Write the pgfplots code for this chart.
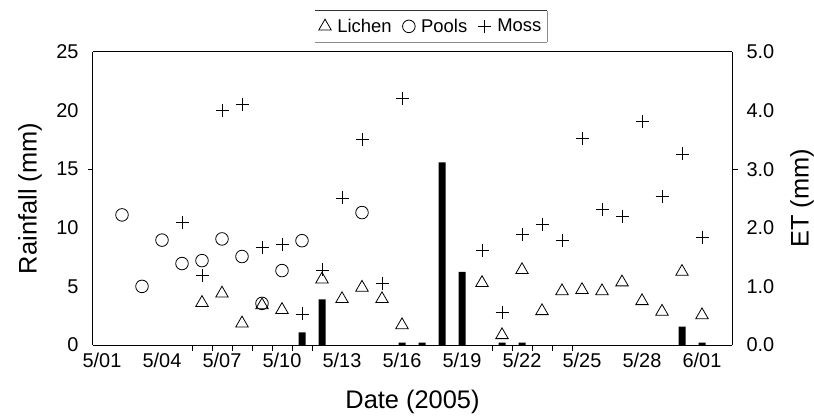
\documentclass[border=0pt]{standalone}
\usepackage{pgfplots}
\pgfplotsset{compat=1.18}
\usepackage{fontspec}
\setmainfont{Liberation Sans}
\begin{document}
\begin{tikzpicture}
\path[use as bounding box] (-93bp,-72bp) rectangle (721bp,345bp);
\pgfplotsset{
  common/.style={
    at={(0,0)}, anchor=south west,
    scale only axis, width=639bp, height=293bp,
    xmin=0.55, xmax=32.5,
    major tick length=0pt,
    axis line style={line width=1bp},
    tick style={line width=0.8bp, black},
    ticklabel style={font=\fontsize{20}{23}\selectfont},
    /pgf/number format/assume math mode=true,
    label style={font=\fontsize{25.5}{29}\selectfont},
  }
}
\begin{axis}[common,
  ymin=0, ymax=25,
  axis y line*=left,
  xtick pos=bottom,
  ytick={0,5,10,15,20,25},
  xtick={1,4,7,10,13,16,19,22,25,28,31},
  xticklabels={5/01,5/04,5/07,5/10,5/13,5/16,5/19,5/22,5/25,5/28,6/01},
  extra x ticks={5.5,6.5,7.5,8.5,9.5,10.5,11.5,20.5,21.5,22.5,23.5,24.5},
  extra x tick labels={},
  extra x tick style={major tick length=6bp, tick align=outside, xtick pos=bottom},
  extra y ticks={15}, extra y tick labels={},
  extra y tick style={major tick length=5bp, tick align=outside},
  xticklabel style={yshift=-5bp},
  yticklabel style={xshift=-11bp},
  xlabel={Date (2005)}, ylabel={Rainfall (mm)},
  xlabel style={at={(axis description cs:0.5,-0.194)}, anchor=center},
  ylabel style={at={(axis description cs:-0.0986,0.5)}, anchor=center},
]
\addplot[ybar, bar width=0.35, fill=black, draw=none] coordinates {
(11,1.08) (12,3.9) (16,0.2) (17,0.2) (18,15.59) (19,6.25) (21,0.2) (22,0.2) (30,1.56) (31,0.2)
};
\end{axis}
\begin{axis}[common,
  ymin=0, ymax=5,
  axis y line*=right, axis x line=none,
  ytick={0,1,2,3,4,5},
  /pgf/number format/fixed, /pgf/number format/fixed zerofill, /pgf/number format/precision=1,
  yticklabel style={xshift=11bp},
  extra y ticks={3}, extra y tick labels={},
  extra y tick style={major tick length=6bp, tick align=outside},
  ylabel={ET (mm)},
  ylabel style={at={(axis description cs:1.1095,0.5)}, anchor=center},
  legend columns=3,
  legend style={at={(0.529,1)}, anchor=south, yshift=10bp,
    font=\fontsize{18.5}{21}\selectfont, draw=none,
    inner xsep=4bp, inner ysep=6bp,
    /tikz/every even column/.append style={column sep=9bp},
    /tikz/every odd column/.append style={column sep=4bp},
    append after command={
      (\tikzlastnode.north west) edge[draw=black!80, line width=0.8bp] (\tikzlastnode.north east)
      (\tikzlastnode.north east) edge[draw=black!45, line width=0.8bp] (\tikzlastnode.south east)
      (\tikzlastnode.south east) edge[draw=black!45, line width=0.8bp] (\tikzlastnode.south west)
    }},
  legend cell align=left,
]
\addplot[only marks, mark=triangle, mark size=7.2bp, line width=0.8bp] coordinates {
(6,0.72) (7,0.88) (8,0.37) (9,0.68) (10,0.60) (12,1.12) (13,0.785) (14,0.98) (15,0.785) (16,0.34)
(20,1.06) (21,0.17) (22,1.28) (23,0.58) (24,0.92) (25,0.94) (26,0.92) (27,1.07) (28,0.75) (29,0.57) (30,1.25) (31,0.51)
};
\addlegendentry{Lichen}
\addplot[only marks, mark=o, mark size=6.3bp, line width=0.8bp] coordinates {
(2,2.22) (3,1.0) (4,1.79) (5,1.39) (6,1.44) (7,1.81) (8,1.51) (9,0.71) (10,1.27) (11,1.78) (14,2.26)
};
\addlegendentry{Pools}
\addplot[only marks, mark=+, mark size=6.5bp, line width=0.8bp] coordinates {
(5,2.09) (6,1.18) (7,4.01) (8,4.10) (9,1.67) (10,1.71) (11,0.53) (12,1.28) (13,2.51) (14,3.50) (15,1.05) (16,4.21)
(20,1.62) (21,0.55) (22,1.88) (23,2.05) (24,1.79) (25,3.53) (26,2.32) (27,2.19) (28,3.81) (29,2.53) (30,3.26) (31,1.84)
};
\addlegendentry{Moss}
\end{axis}
\end{tikzpicture}
\end{document}
